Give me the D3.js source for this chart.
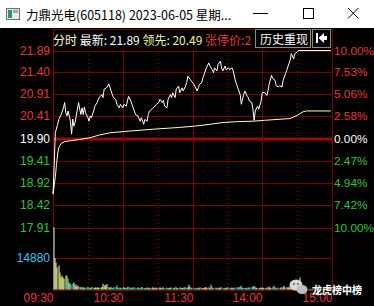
<!DOCTYPE html>
<html><head><meta charset="utf-8">
<script src="https://cdn.jsdelivr.net/npm/d3@7/dist/d3.min.js"></script>
<style>
html,body{margin:0;padding:0;background:#000;overflow:hidden;}
svg{display:block;}
</style></head>
<body>
<script>
// ---------- data ----------
const prevClose = 19.90;
const priceTicks = [21.89, 21.40, 20.91, 20.41, 19.90, 19.41, 18.92, 18.42, 17.91];
const pctLabels = ["10.00%", "7.53%", "5.06%", "2.58%", "0.00%", "2.47%", "4.94%", "7.42%", "10.00%"];
const timeTicks = [0, 60, 120, 180, 240];
const timeLabels = ["09:30", "10:30", "11:30", "14:00", "15:00"];
const halfHourTicks = [30, 90, 150, 210];
const volTick = 14880;

// price line: minute offsets and prices
const priceMin = [0,1,2,4,5,7,9,10,11,12,13,15,16,17,18,19,20,22,23,24,25,26,27,28,30,31,32,33,35,36,38,39,40,42,43,44,46,47,48,50,51,52,54,55,57,58,60,
61,63,65,67,69,71,73,75,76,78,79,81,82,83,85,86,88,89,91,92,94,95,96,98,99,101,102,103,105,106,108,109,111,112,114,115,116,118,119,121,
122,124,125,126,128,129,131,132,134,135,137,138,139,141,142,144,145,146,148,149,151,152,154,155,157,158,159,161,162,164,165,167,168,169,171,172,173,174,176,177,179,180,
182,184,185,186,188,189,191,192,194,195,197,198,200,201,202,204,205,207,208,210,211,239];
const priceVal = [18.66,19.31,20.04,20.23,20.34,20.45,20.60,20.72,20.49,20.42,20.53,20.30,20.01,20.35,20.19,20.27,20.42,20.72,20.57,20.45,20.60,20.45,20.62,20.49,20.38,20.30,20.42,20.38,20.53,20.64,20.72,20.79,20.84,20.90,20.83,21.02,21.05,21.09,21.14,20.98,20.90,20.83,20.79,20.68,20.60,20.68,20.60,
20.68,20.64,20.86,20.75,20.60,20.45,20.42,20.30,20.38,20.23,20.34,20.30,20.45,20.53,20.57,20.60,20.64,20.68,20.72,20.79,20.72,20.77,20.64,20.60,20.79,20.90,20.83,20.94,20.83,21.02,21.09,20.94,21.05,20.98,21.09,21.17,21.31,21.24,21.20,21.14,
21.09,20.98,21.05,21.13,21.17,21.28,21.43,21.50,21.61,21.54,21.46,21.39,21.50,21.43,21.58,21.65,21.50,21.43,21.54,21.46,21.50,21.46,21.50,21.43,21.20,21.13,21.05,20.90,20.68,20.90,20.98,20.86,20.83,20.75,20.72,20.57,20.32,20.53,20.64,20.57,20.75,20.94,
20.95,20.88,20.99,21.14,21.33,21.26,21.22,21.10,21.07,21.10,21.07,21.22,21.37,21.44,21.52,21.67,21.82,21.70,21.82,21.85,21.89,21.89];

// average price line
const avgMin = [0,2,3,4,5,7,10,15,23,32,40,49,62,86,109,122,135,146,158,172,182,204,210,215,218,239];
const avgVal = [18.66,19.04,19.33,19.56,19.71,19.80,19.84,19.86,19.89,19.93,19.99,20.04,20.07,20.12,20.16,20.19,20.23,20.27,20.29,20.30,20.32,20.36,20.43,20.51,20.53,20.53];

// per-minute volume
const volume = [
29500,14900,12800,10500,11400,8000,5700,6600,5700,5200,6600,6600,5200,3300,2800,2400,2800,3300,1900,2400,
1400,1900,1200,900,1300,800,1100,700,1000,1200,600,900,800,1300,700,1000,900,600,1100,800,
900,1200,2700,1500,2200,1800,2600,1100,800,1300,700,900,1000,1200,1900,800,600,1000,700,900,
1100,800,600,900,1300,1000,700,800,1200,600,900,700,1000,800,500,900,1200,700,600,800,
1000,700,900,600,800,1100,700,500,900,800,600,1000,700,800,1200,600,700,900,500,800,
700,1000,600,800,900,1300,700,600,1000,800,700,900,600,1100,800,1000,2200,1300,700,900,
600,500,800,700,900,600,1000,700,500,800,900,1200,700,1000,800,2400,1300,700,600,900,
800,600,900,700,1100,500,800,600,900,700,1000,600,800,900,700,500,1000,800,1200,900,
1300,1900,1000,700,800,600,900,700,1100,800,1200,1500,1700,1300,900,700,600,800,1000,700,
900,600,800,1000,700,1400,900,600,1100,1900,1000,800,600,900,700,1000,800,1200,1700,900,
1100,800,1300,900,1500,1100,800,1200,900,1000,1300,1600,5700,900,500,300,400,300,200,300,
200,300,200,400,200,300,200,200,300,200,200,300,200,200,400,200,300,200,200,300];

// ---------- drawing ----------
const W = 374, H = 306;
const svg = d3.select("body").append("svg").attr("width", W).attr("height", H);
const L = 52.5, R = 332.5;
const x = d3.scaleLinear().domain([0, 240]).range([53, 332]);
const y = d3.scaleLinear().domain([17.91, 21.89]).range([227.5, 50.5]);
const yv = d3.scaleLinear().domain([0, volTick * 2]).range([289.5, 226.7]);

const RED = "#e03a3a", GREEN = "#36c236", GRID = "#7c0000";
const numFont = "'Liberation Sans', Arial, sans-serif";
const cjk = "'Noto Sans CJK SC', sans-serif";

// black chart background
svg.append("rect").attr("x", 0).attr("y", 0).attr("width", W).attr("height", H).attr("fill", "#000");

// title bar
svg.append("rect").attr("x", 0).attr("y", 0).attr("width", W).attr("height", 28).attr("fill", "#fff");
const ic = svg.append("g");
ic.append("rect").attr("x", 6.5).attr("y", 8.5).attr("width", 13).attr("height", 11).attr("fill", "#e8e8e8").attr("stroke", "#707070");
ic.append("rect").attr("x", 8).attr("y", 10).attr("width", 4).attr("height", 8).attr("fill", "#2f8f6f");
ic.append("rect").attr("x", 13).attr("y", 10).attr("width", 5).attr("height", 3).attr("fill", "#9aa");
svg.append("text").attr("x", 26).attr("y", 14).attr("dominant-baseline", "central")
  .attr("font-family", cjk).attr("font-size", 12.5).attr("fill", "#000")
  .text("力鼎光电(605118) 2023-06-05 星期...");
// window controls
svg.append("line").attr("x1", 253).attr("x2", 268).attr("y1", 13.5).attr("y2", 13.5).attr("stroke", "#000");
svg.append("rect").attr("x", 303.5).attr("y", 8.5).attr("width", 10).attr("height", 10).attr("fill", "none").attr("stroke", "#000");
svg.append("path").attr("d", "M348,8 L358.5,18.5 M358.5,8 L348,18.5").attr("stroke", "#000").attr("stroke-width", 1);

// horizontal grid
priceTicks.forEach((p, i) => {
  const yy = Math.round(y(p)) + 0.5;
  if (p === prevClose) {
    svg.append("line").attr("x1", L).attr("x2", R).attr("y1", y(p)).attr("y2", y(p))
      .attr("stroke", "#9c0808").attr("stroke-width", 3);
  } else {
    svg.append("line").attr("x1", L).attr("x2", R).attr("y1", yy).attr("y2", yy).attr("stroke", GRID);
  }
});
// volume grid
[volTick, 0].forEach(v => {
  const yy = Math.round(yv(v)) + 0.5;
  svg.append("line").attr("x1", L).attr("x2", R).attr("y1", yy).attr("y2", yy).attr("stroke", GRID);
});
// top frame line
svg.append("line").attr("x1", L).attr("x2", R).attr("y1", 29.5).attr("y2", 29.5).attr("stroke", GRID);

// vertical grid
timeTicks.forEach(t => {
  const xx = Math.round(x(t)) + 0.5;
  const top = (t === 0 || t === 240) ? 29 : 50;
  svg.append("line").attr("x1", xx).attr("x2", xx).attr("y1", top).attr("y2", 290).attr("stroke", GRID);
});
halfHourTicks.forEach(t => {
  const xx = Math.round(x(t)) + 0.5;
  svg.append("line").attr("x1", xx).attr("x2", xx).attr("y1", 51).attr("y2", 289).attr("stroke", "#8a0000")
    .attr("stroke-dasharray", "1,3");
});

// info bar
const clip = svg.append("clipPath").attr("id", "infoClip");
clip.append("rect").attr("x", 53).attr("y", 30).attr("width", 202).attr("height", 18);
const info = svg.append("text").attr("x", 53).attr("y", 38.5).attr("dominant-baseline", "central")
  .attr("font-family", cjk).attr("font-size", 12).attr("clip-path", "url(#infoClip)")
  .attr("xml:space", "preserve");
info.append("tspan").attr("fill", "#ffffc8").text("分时 ");
info.append("tspan").attr("fill", "#ffffff").text("最新: " + priceVal[priceVal.length - 1].toFixed(2) + " ");
info.append("tspan").attr("fill", "#f0f0a0").text("领先: " + "20.49" + " ");
info.append("tspan").attr("fill", RED).text("张停价:2");
// buttons
svg.append("rect").attr("x", 255.5).attr("y", 29.5).attr("width", 55).attr("height", 18).attr("fill", "#000").attr("stroke", "#8a8a8a");
svg.append("text").attr("x", 284).attr("y", 38.5).attr("dominant-baseline", "central").attr("text-anchor", "middle")
  .attr("font-family", cjk).attr("font-size", 12).attr("fill", "#fff").text("历史重现");
svg.append("rect").attr("x", 312.5).attr("y", 29.5).attr("width", 18).attr("height", 18).attr("fill", "#000").attr("stroke", "#8a8a8a");
svg.append("rect").attr("x", 316).attr("y", 33).attr("width", 2).attr("height", 10).attr("fill", "#fff");
svg.append("path").attr("d", "M318.5,38 L324,33 L324,43 Z").attr("fill", "#fff");
svg.append("rect").attr("x", 324).attr("y", 36).attr("width", 3).attr("height", 4).attr("fill", "#fff");

// left/right labels
priceTicks.forEach((p, i) => {
  const col = p > prevClose ? RED : (p < prevClose ? GREEN : "#ffffff");
  svg.append("text").attr("x", 50).attr("y", y(p)).attr("text-anchor", "end").attr("dominant-baseline", "central")
    .attr("font-family", numFont).attr("font-size", 12).attr("fill", col).text(p.toFixed(2));
  svg.append("text").attr("x", 334).attr("y", y(p)).attr("dominant-baseline", "central")
    .attr("font-family", numFont).attr("font-size", 11.8).attr("fill", col).text(pctLabels[i]);
});
svg.append("text").attr("x", 50).attr("y", yv(volTick)).attr("text-anchor", "end").attr("dominant-baseline", "central")
  .attr("font-family", numFont).attr("font-size", 12).attr("fill", "#3cc4e4").text(volTick);
timeTicks.forEach((t, i) => {
  svg.append("text").attr("x", Math.round(x(t)) + 0.5).attr("y", 298).attr("text-anchor", "end").attr("dominant-baseline", "central")
    .attr("font-family", numFont).attr("font-size", 12).attr("fill", RED).text(timeLabels[i]);
});

// volume bars (colour by price direction)
const priceAt = m => {
  const i = d3.bisectRight(priceMin, m);
  if (i <= 0) return priceVal[0];
  if (i >= priceMin.length) return priceVal[priceVal.length - 1];
  const m0 = priceMin[i - 1], m1 = priceMin[i];
  return priceVal[i - 1] + (priceVal[i] - priceVal[i - 1]) * (m - m0) / (m1 - m0);
};
svg.append("g").selectAll("rect").data(volume).join("rect")
  .attr("x", (d, i) => Math.round(x(i)) + 0.5)
  .attr("width", 1)
  .attr("y", d => yv(d))
  .attr("height", d => yv(0) - yv(d))
  .attr("fill", (d, i) => i === 0 ? "#b8fff8" : (priceAt(i) >= priceAt(i - 1) ? "#ffff9a" : "#6ee6d6"));

// average line
svg.append("path").datum(avgMin.map((m, i) => [m, avgVal[i]]))
  .attr("d", d3.line().x(d => x(d[0])).y(d => y(d[1])))
  .attr("fill", "none").attr("stroke", "#ffffb8").attr("stroke-width", 1);
// price line
svg.append("path").datum(priceMin.map((m, i) => [m, priceVal[i]]))
  .attr("d", d3.line().x(d => x(d[0])).y(d => y(d[1])))
  .attr("fill", "none").attr("stroke", "#ffffff").attr("stroke-width", 1);

// watermark
const wm = svg.append("g");
wm.append("ellipse").attr("cx", 296).attr("cy", 285).attr("rx", 6.5).attr("ry", 5.5).attr("fill", "#d8d8d8");
wm.append("ellipse").attr("cx", 302).attr("cy", 289.5).attr("rx", 5.5).attr("ry", 4.5).attr("fill", "#bdbdbd");
wm.append("circle").attr("cx", 294).attr("cy", 284).attr("r", 0.9).attr("fill", "#555");
wm.append("circle").attr("cx", 298).attr("cy", 284).attr("r", 0.9).attr("fill", "#555");
svg.append("text").attr("x", 312).attr("y", 289).attr("dominant-baseline", "central")
  .attr("font-family", cjk).attr("font-size", 10).attr("font-weight", "bold").attr("fill", "#ffffff")
  .attr("stroke", "#444").attr("stroke-width", 0.6).attr("paint-order", "stroke")
  .text("龙虎榜中榜");
</script>
</body></html>
